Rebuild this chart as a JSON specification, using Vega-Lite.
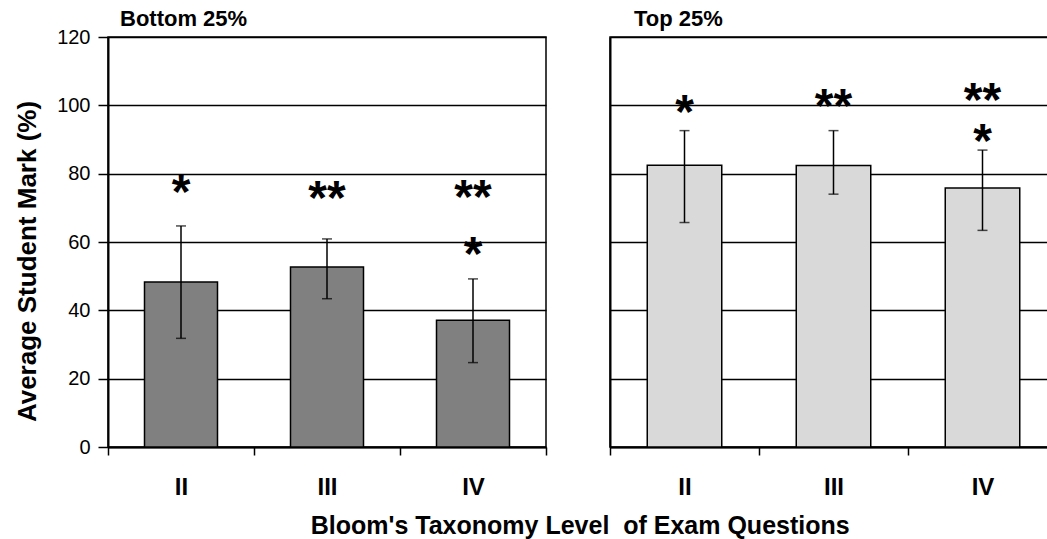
{
  "$schema": "https://vega.github.io/schema/vega-lite/v6.json",
  "padding": {"left": 13, "top": 7, "right": 0, "bottom": 0},
  "background": "white",
  "datasets": {
    "bars": [
      {"group": "Bottom 25%", "level": "II", "mean": 48.3, "lo": 31.8, "hi": 64.7},
      {"group": "Bottom 25%", "level": "III", "mean": 52.7, "lo": 43.4, "hi": 60.9},
      {"group": "Bottom 25%", "level": "IV", "mean": 37.1, "lo": 24.7, "hi": 49.2},
      {"group": "Top 25%", "level": "II", "mean": 82.5, "lo": 65.7, "hi": 92.6},
      {"group": "Top 25%", "level": "III", "mean": 82.4, "lo": 74.0, "hi": 92.6},
      {"group": "Top 25%", "level": "IV", "mean": 75.8, "lo": 63.4, "hi": 86.9}
    ],
    "stars": [
      {"group": "Bottom 25%", "level": "II", "label": "*", "y": 76.6},
      {"group": "Bottom 25%", "level": "III", "label": "**", "y": 74.8},
      {"group": "Bottom 25%", "level": "IV", "label": "**", "y": 75.1},
      {"group": "Bottom 25%", "level": "IV", "label": "*", "y": 58.6},
      {"group": "Top 25%", "level": "II", "label": "*", "y": 100.0},
      {"group": "Top 25%", "level": "III", "label": "**", "y": 101.8},
      {"group": "Top 25%", "level": "IV", "label": "**", "y": 103.5},
      {"group": "Top 25%", "level": "IV", "label": "*", "y": 91.5}
    ]
  },
  "config": {
    "font": "Liberation Sans",
    "view": {"stroke": "black", "strokeWidth": 1.5},
    "axisX": {"tickBand": "extent", "tickSize": 8, "tickColor": "black", "tickWidth": 1.5, "domainColor": "black", "domainWidth": 2, "labelFontSize": 24, "labelFontWeight": "bold", "labelAngle": 0, "labelPadding": 20, "labelColor": "black", "grid": false, "title": null},
    "axisY": {"gridColor": "black", "gridWidth": 1.4, "gridOpacity": 1, "tickColor": "black", "tickSize": 10, "tickWidth": 1.5, "domainColor": "black", "domainWidth": 2, "labelFontSize": 20, "labelColor": "black", "labelPadding": 8, "titleFontSize": 26, "titleFontWeight": "bold", "titlePadding": 16, "titleColor": "black"},
    "title": {"color": "black"}
  },
  "title": {"text": "Bloom's Taxonomy Level \u00a0of Exam Questions", "orient": "bottom", "anchor": "middle", "fontSize": 25, "fontWeight": "bold", "offset": 14, "dx": 44},
  "spacing": 60,
  "hconcat": [
    {
      "width": 438,
      "height": 410,
      "title": {"text": "Bottom 25%", "anchor": "start", "frame": "group", "dx": 12, "fontSize": 22, "fontWeight": "bold", "offset": -4},
      "encoding": {
        "x": {"field": "level", "type": "nominal", "sort": ["II", "III", "IV"], "scale": {"paddingInner": 0, "paddingOuter": 0}}
      },
      "layer": [
        {"data": {"name": "bars"}, "transform": [{"filter": "datum.group === 'Bottom 25%'"}], "mark": {"type": "bar", "width": {"band": 0.5}, "fill": "#808080", "stroke": "black", "strokeWidth": 1.5},
         "encoding": {"y": {"field": "mean", "type": "quantitative", "scale": {"domain": [0, 120], "nice": false}, "axis": {"values": [0, 20, 40, 60, 80, 100, 120], "titleY": 224}, "title": "Average Student Mark (%)"}}},
        {"data": {"name": "bars"}, "transform": [{"filter": "datum.group === 'Bottom 25%'"}], "mark": {"type": "rule", "color": "black", "strokeWidth": 1.5},
         "encoding": {"y": {"field": "lo", "type": "quantitative"}, "y2": {"field": "hi"}}},
        {"data": {"name": "bars"}, "transform": [{"filter": "datum.group === 'Bottom 25%'"}], "mark": {"type": "tick", "color": "black", "size": 10, "thickness": 1.5},
         "encoding": {"y": {"field": "lo", "type": "quantitative"}}},
        {"data": {"name": "bars"}, "transform": [{"filter": "datum.group === 'Bottom 25%'"}], "mark": {"type": "tick", "color": "black", "size": 10, "thickness": 1.5},
         "encoding": {"y": {"field": "hi", "type": "quantitative"}}},
        {"data": {"name": "stars"}, "transform": [{"filter": "datum.group === 'Bottom 25%'"}], "mark": {"type": "text", "fontSize": 48, "fontWeight": "bold", "baseline": "middle", "dy": 9, "color": "black"},
         "encoding": {"y": {"field": "y", "type": "quantitative"}, "text": {"field": "label"}}}
      ]
    },
    {
      "width": 447,
      "height": 410,
      "title": {"text": "Top 25%", "anchor": "start", "frame": "group", "dx": 24, "fontSize": 22, "fontWeight": "bold", "offset": 6},
      "encoding": {
        "x": {"field": "level", "type": "nominal", "sort": ["II", "III", "IV"], "scale": {"paddingInner": 0, "paddingOuter": 0}}
      },
      "layer": [
        {"data": {"name": "bars"}, "transform": [{"filter": "datum.group === 'Top 25%'"}], "mark": {"type": "bar", "width": {"band": 0.5}, "fill": "#d9d9d9", "stroke": "black", "strokeWidth": 1.5},
         "encoding": {"y": {"field": "mean", "type": "quantitative", "scale": {"domain": [0, 120], "nice": false}, "axis": {"values": [0, 20, 40, 60, 80, 100, 120], "labels": false, "ticks": false}, "title": null}}},
        {"data": {"name": "bars"}, "transform": [{"filter": "datum.group === 'Top 25%'"}], "mark": {"type": "rule", "color": "black", "strokeWidth": 1.5},
         "encoding": {"y": {"field": "lo", "type": "quantitative"}, "y2": {"field": "hi"}}},
        {"data": {"name": "bars"}, "transform": [{"filter": "datum.group === 'Top 25%'"}], "mark": {"type": "tick", "color": "black", "size": 10, "thickness": 1.5},
         "encoding": {"y": {"field": "lo", "type": "quantitative"}}},
        {"data": {"name": "bars"}, "transform": [{"filter": "datum.group === 'Top 25%'"}], "mark": {"type": "tick", "color": "black", "size": 10, "thickness": 1.5},
         "encoding": {"y": {"field": "hi", "type": "quantitative"}}},
        {"data": {"name": "stars"}, "transform": [{"filter": "datum.group === 'Top 25%'"}], "mark": {"type": "text", "fontSize": 48, "fontWeight": "bold", "baseline": "middle", "dy": 9, "color": "black"},
         "encoding": {"y": {"field": "y", "type": "quantitative"}, "text": {"field": "label"}}}
      ]
    }
  ]
}
